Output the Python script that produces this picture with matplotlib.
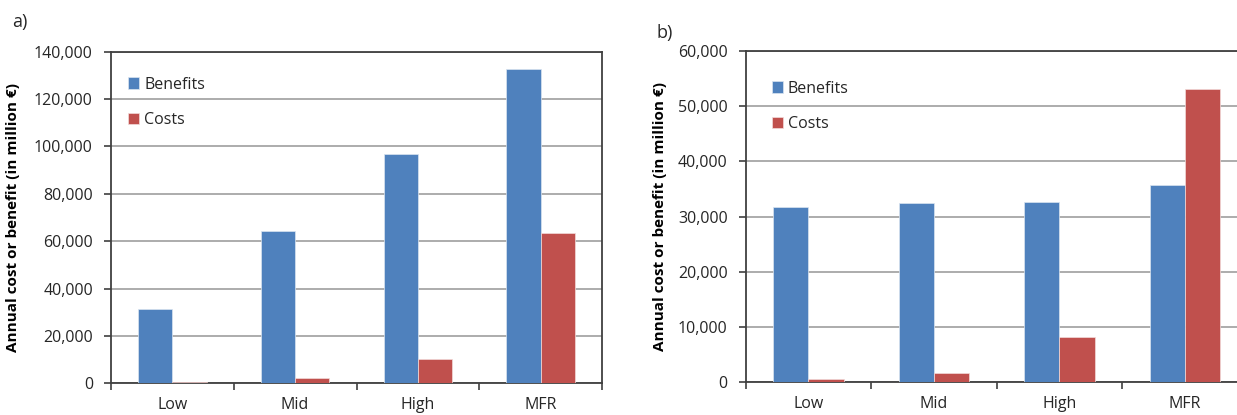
import matplotlib.pyplot as plt
from matplotlib.ticker import FuncFormatter

scenarios = ["Low", "Mid", "High", "MFR"]
a_benefits = [31400, 64100, 96700, 132700]
a_costs = [700, 2100, 10300, 63600]
b_benefits = [31700, 32400, 32700, 35700]
b_costs = [550, 1600, 8200, 53100]

BLUE = '#4F81BD'
RED = '#C0504D'
SPINE = '#404040'

plt.rcParams['font.family'] = ['Open Sans', 'DejaVu Sans']
plt.rcParams['text.color'] = '#262626'

fig = plt.figure(figsize=(12.37, 4.15), dpi=100)
ax_a = fig.add_axes([0.0897, 0.0764, 0.397, 0.799])
ax_b = fig.add_axes([0.6028, 0.0788, 0.4058, 0.799])


def draw(ax, benefits, costs, ymax, step, leg_xy, ylab_x):
    w = 0.28
    centers = [i + 0.5 for i in range(len(scenarios))]
    ax.bar([c - w / 2 for c in centers], benefits, width=w, color=BLUE,
           edgecolor='#dbe5f1', linewidth=0.5, label='Benefits', zorder=3)
    ax.bar([c + w / 2 for c in centers], costs, width=w, color=RED,
           edgecolor='#f2dcdb', linewidth=0.5, label='Costs', zorder=3)
    ax.set_xlim(0, len(scenarios))
    ax.set_ylim(0, ymax)
    ax.set_yticks(range(0, ymax + 1, step))
    ax.yaxis.set_major_formatter(FuncFormatter(lambda v, p: f"{int(v):,}"))
    ax.grid(axis='y', color='#a6a6a6', linewidth=1.3, zorder=0)
    ax.set_axisbelow(True)

    # boundary ticks, centered labels
    ax.set_xticks(range(len(scenarios) + 1))
    ax.set_xticklabels([])
    ax.set_xticks(centers, minor=True)
    ax.set_xticklabels(scenarios, minor=True)
    ax.tick_params(axis='x', which='major', direction='out', length=5,
                   width=1.2, color=SPINE)
    ax.tick_params(axis='x', which='minor', length=0, pad=10,
                   labelsize=11.5, labelcolor='#262626')
    ax.tick_params(axis='y', direction='out', length=5, width=1.2,
                   color=SPINE, pad=8, labelsize=11.5, labelcolor='#262626')
    for s in ax.spines.values():
        s.set_color(SPINE)
        s.set_linewidth(1.3)

    ax.set_ylabel("Annual cost or benefit (in million €)", fontsize=11,
                  fontweight='bold')
    ax.yaxis.set_label_coords(ylab_x, 0.5)

    ax.legend(loc='upper left', bbox_to_anchor=leg_xy, frameon=False,
              fontsize=11.5, handlelength=0.7, handleheight=0.7,
              handletextpad=0.3, labelspacing=1.2, borderpad=0,
              borderaxespad=0)


draw(ax_a, a_benefits, a_costs, 140000, 20000, (0.035, 0.925), -0.185)
draw(ax_b, b_benefits, b_costs, 60000, 10000, (0.052, 0.91), -0.157)

fig.text(12 / 1237, 1 - 22 / 415, "a)", fontsize=13, va='center', ha='left')
fig.text(657 / 1237, 1 - 33 / 415, "b)", fontsize=13, va='center', ha='left')

fig.savefig("out.png", dpi=100)
